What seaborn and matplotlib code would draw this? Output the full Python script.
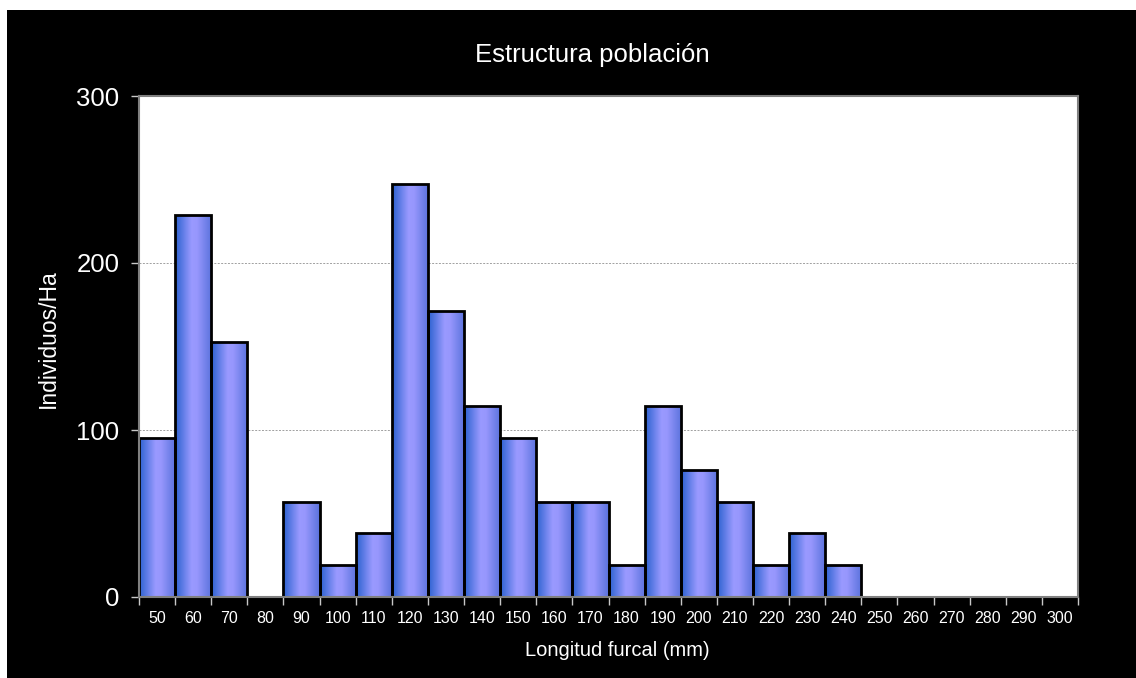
"""
Estructura población - histograma de longitud furcal.
"""
import numpy as np
import seaborn as sns
import matplotlib.pyplot as plt
from matplotlib.colors import LinearSegmentedColormap
from matplotlib.patches import Rectangle

# ── Datos ──────────────────────────────────────────────────────
CLASES = [str(v) for v in range(50, 310, 10)]
INDIVIDUOS = [95.2, 228.6, 152.4, 0, 57.1, 19.0, 38.1, 247.6, 171.4, 114.3,
              95.2, 57.1, 57.1, 19.0, 114.3, 76.2, 57.1, 19.0, 38.1, 19.0,
              0, 0, 0, 0, 0, 0]
Y_TICKS = [0, 100, 200, 300]

TITULO = "Estructura población"
X_LABEL = "Longitud furcal (mm)"
Y_LABEL = "Individuos/Ha"

# ── Estilo ─────────────────────────────────────────────────────
sns.set_theme(style="white")
plt.rcParams["font.family"] = ["Liberation Sans", "DejaVu Sans"]

GRIS = "#808080"
gradiente = LinearSegmentedColormap.from_list(
    "barra", [(0.0, "#2c62d0"), (0.45, "#9a9aff"), (0.6, "#9797fd"), (1.0, "#5a72dc")]
)

fig = plt.figure(figsize=(11.36, 6.78), dpi=100, facecolor="white")
fig.patches.append(Rectangle((7 / 1136, 0), 1, 668 / 678, transform=fig.transFigure,
                             facecolor="black", edgecolor="none", zorder=-10))

ax = fig.add_axes([139 / 1136, 81 / 678, 939 / 1136, 501 / 678])
ax.set_zorder(1)
ax.set_facecolor("white")

sns.barplot(x=CLASES, y=INDIVIDUOS, order=CLASES, width=1.0, color="#9999ff",
            edgecolor="black", linewidth=2.0, ax=ax)

# relleno con degradado horizontal recortado a cada barra
grad = np.linspace(0, 1, 64).reshape(1, -1)
for patch, valor in zip(ax.patches, INDIVIDUOS):
    if valor <= 0:
        patch.set_visible(False)
        continue
    x0, w = patch.get_x(), patch.get_width()
    img = ax.imshow(grad, cmap=gradiente, aspect="auto", interpolation="bilinear",
                    extent=(x0, x0 + w, 0, valor), zorder=1)
    img.set_clip_path(patch)
    patch.set_facecolor("none")
    patch.set_zorder(2)

ax.set_xlim(-0.5, len(CLASES) - 0.5)
ax.set_ylim(0, 300)
ax.set_yticks(Y_TICKS)

ax.set_axisbelow(True)
ax.yaxis.grid(True, color="#a0a0a0", linestyle=(0, (2, 1.5)), linewidth=0.7)
ax.xaxis.grid(False)

for s in ax.spines.values():
    s.set_color(GRIS)
    s.set_linewidth(1.5)

ax.set_xticks(range(len(CLASES)))
ax.set_xticklabels(CLASES)
ax.set_xticks(np.arange(-0.5, len(CLASES), 1), minor=True)
ax.tick_params(axis="x", which="major", bottom=True, length=0, pad=10, labelsize=11.5,
               colors="white")
ax.tick_params(axis="x", which="minor", bottom=True, length=6, width=1, color="#c8c8c8",
               direction="out")
ax.tick_params(axis="y", left=True, length=6, width=1, color="#c8c8c8", direction="out",
               labelsize=18.5, labelcolor="white", pad=8)
ax.set_xlabel("")
ax.set_ylabel("")

fig.text(592 / 1136, 1 - 55 / 678, TITULO, color="white", fontsize=18.5, ha="center", va="center")
fig.text(0.543, 1 - 650 / 678, X_LABEL, color="white", fontsize=14.5, ha="center", va="center")
fig.text(48 / 1136, 1 - 339 / 678, Y_LABEL, color="white", fontsize=16.5, ha="center",
         va="center", rotation=90)

fig.savefig("out.png", dpi=100, facecolor=fig.get_facecolor())
